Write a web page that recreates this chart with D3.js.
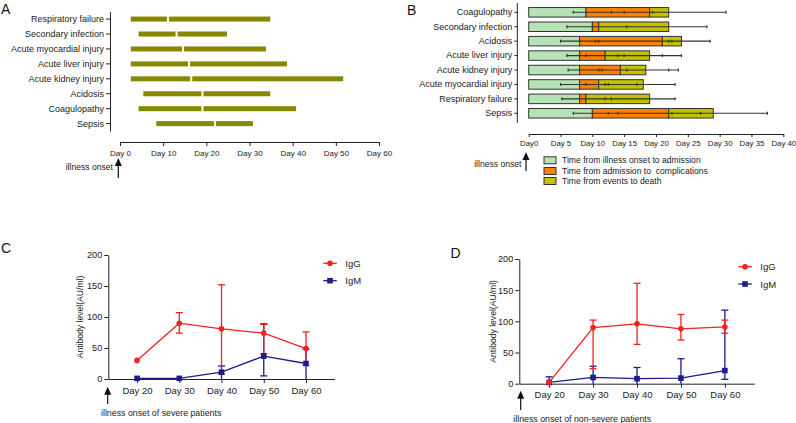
<!DOCTYPE html>
<html>
<head>
<meta charset="utf-8">
<script src="https://cdn.jsdelivr.net/npm/d3@7"></script>
<style>
  body { margin: 0; background: #fff; }
  svg { display: block; font-family: "Liberation Sans", Arial, sans-serif; }
  .axis path, .axis line { stroke: #222; stroke-width: 1; }
  .axis text { fill: #222; font-family: "Liberation Sans", Arial, sans-serif; }
</style>
</head>
<body>
<script>
// ---------- Panel A data ----------
const catsA = ["Respiratory failure", "Secondary infection", "Acute myocardial injury", "Acute liver injury",
               "Acute kidney injury", "Acidosis", "Coagulopathy", "Sepsis"];
const startA = [2.5, 4.3, 2.5, 2.5, 2.5, 5.4, 4.3, 8.4];
const breakA = [11.1, 13.1, 14.6, 16.0, 16.5, 19.1, 19.1, 22.0];
const endA   = [34.8, 24.8, 33.8, 38.7, 51.7, 34.8, 40.8, 30.8];
const ticksA = [0, 10, 20, 30, 40, 50, 60];

// ---------- Panel B data ----------
const catsB = ["Coagulopathy", "Secondary infection", "Acidosis", "Acute liver injury", "Acute kidney injury",
               "Acute myocardial injury", "Respiratory failure", "Sepsis"];
const onsetToAdmission = [9, 10, 8, 8, 8, 8, 8, 10];
const admissionToComplication = [10, 1, 13, 4, 6.4, 3, 1, 12];
const eventsToDeath = [3, 11, 3, 7, 4, 7, 10, 7];
const whiskerLo = [7, 6, 5, 6, 6.2, 5, 5.2, 7];
const whiskerHi = [31, 28, 28.5, 24, 23.5, 23, 23, 37.5];
const innerTicks = [[13, 15, 19.5], [15.4], [10.5, 11, 22, 22.5], [9, 14, 15, 21], [11, 11.5, 15.4, 22],
                    [9, 12, 12.5, 17], [12, 13], [12.5, 14, 22.5, 27]];
const ticksB = [0, 5, 10, 15, 20, 25, 30, 35, 40];
const legendB = ["Time from illness onset to admission", "Time from admission to  complications", "Time from events to death"];

// ---------- Panel C / D data ----------
const days = [20, 30, 40, 50, 60];
const yTicks = [0, 50, 100, 150, 200];
const cIgG = [30, 90, 81, 74, 49];
const cIgGLo = [30, 74, 8, 41, 22];
const cIgGHi = [30, 107, 152, 88, 76];
const cIgM = [1, 1, 11, 37, 25];
const cIgMLo = [1, 1, 0, 5, 0];
const cIgMHi = [1, 1, 21, 89, 48];
const dIgG = [2, 90, 96, 88, 91];
const dIgGLo = [2, 24, 63, 70, 81];
const dIgGHi = [2, 102, 161, 111, 102];
const dIgM = [2, 10, 8, 9, 21];
const dIgMLo = [0, 0, 0, 0, 7];
const dIgMHi = [11, 28, 26, 40, 118];

const FONT = '"Liberation Sans", Arial, sans-serif';
const svg = d3.select("body").append("svg").attr("width", 796).attr("height", 423);

function arrow(x, yTip, yTail) {
  svg.append("line").attr("x1", x).attr("x2", x).attr("y1", yTip + 5).attr("y2", yTail)
    .attr("stroke", "#111").attr("stroke-width", 1.2);
  svg.append("path").attr("d", `M${x},${yTip} L${x - 3.5},${yTip + 8} L${x + 3.5},${yTip + 8} Z`).attr("fill", "#111");
}
function panelLetter(t, x, y) {
  svg.append("text").attr("x", x).attr("y", y).text(t)
    .attr("font-size", 14).attr("fill", "#111").attr("font-family", FONT);
}

// ================= Panel A =================
const xA = d3.scaleLinear().domain([0, 60]).range([120, 379]);
const yA = d3.scaleBand().domain(catsA).range([11.6, 131.1]);
panelLetter("A", 1, 14);
svg.append("g").attr("class", "axis").attr("transform", "translate(110,0)")
  .call(d3.axisLeft(yA).tickSize(4).tickSizeOuter(0).tickPadding(2))
  .call(g => g.selectAll("text").attr("font-size", 9));
svg.append("g").attr("class", "axis").attr("transform", "translate(0,142)")
  .call(d3.axisBottom(xA).tickValues(ticksA).tickFormat(d => "Day " + d).tickSize(4).tickSizeOuter(0).tickPadding(4))
  .call(g => g.selectAll("text").attr("font-size", 8));
const barHA = 5;
catsA.forEach((c, i) => {
  const yc = yA(c) + yA.bandwidth() / 2;
  svg.append("rect").attr("x", xA(startA[i])).attr("y", yc - barHA / 2)
    .attr("width", xA(breakA[i]) - 1 - xA(startA[i])).attr("height", barHA).attr("fill", "#878700");
  svg.append("rect").attr("x", xA(breakA[i]) + 1).attr("y", yc - barHA / 2)
    .attr("width", xA(endA[i]) - xA(breakA[i]) - 1).attr("height", barHA).attr("fill", "#878700");
});
arrow(118.3, 158, 178);
svg.append("text").attr("x", 113).attr("y", 170).attr("text-anchor", "end")
  .attr("font-size", 8.6).attr("fill", "#222").text("illness onset");

// ================= Panel B =================
const xB = d3.scaleLinear().domain([0, 40]).range([528.7, 783.3]);
const yB = d3.scaleBand().domain(catsB).range([5.1, 120.5]).paddingInner(0.34).paddingOuter(0.17);
panelLetter("B", 407, 15);
svg.append("g").attr("class", "axis").attr("transform", "translate(517.3,0)")
  .call(d3.axisLeft(yB).tickSize(3).tickSizeOuter(0).tickPadding(2))
  .call(g => g.select(".domain").attr("d", "M0,3V123"))
  .call(g => g.selectAll("text").attr("font-size", 9));
svg.append("g").attr("class", "axis").attr("transform", "translate(0,134)")
  .call(d3.axisBottom(xB).tickValues(ticksB).tickFormat(d => d === 0 ? "Day0" : "Day " + d).tickSize(3).tickSizeOuter(0).tickPadding(3))
  .call(g => g.selectAll("text").attr("font-size", 7.8));
const segColors = ["#b5e3b5", "#ff8000", "#c2c200"];
catsB.forEach((c, i) => {
  const y0 = yB(c), h = yB.bandwidth();
  const segs = [onsetToAdmission[i], admissionToComplication[i], eventsToDeath[i]];
  let acc = 0;
  segs.forEach((v, k) => {
    svg.append("rect").attr("x", xB(acc)).attr("y", y0).attr("width", xB(acc + v) - xB(acc)).attr("height", h)
      .attr("fill", segColors[k]).attr("stroke", "#333").attr("stroke-width", 1);
    acc += v;
  });
  const yc = y0 + h / 2;
  svg.append("line").attr("x1", xB(whiskerLo[i])).attr("x2", xB(whiskerHi[i])).attr("y1", yc).attr("y2", yc)
    .attr("stroke", "#333").attr("stroke-width", 1.1);
  [whiskerLo[i], whiskerHi[i]].concat(innerTicks[i]).forEach(t => {
    svg.append("line").attr("x1", xB(t)).attr("x2", xB(t)).attr("y1", yc - 1.5).attr("y2", yc + 1.5)
      .attr("stroke", "#333").attr("stroke-width", 1.2);
  });
});
arrow(526, 152, 171);
svg.append("text").attr("x", 521.5).attr("y", 166.5).attr("text-anchor", "end")
  .attr("font-size", 8.6).attr("fill", "#222").text("illness onset");
legendB.forEach((t, k) => {
  const yc = [160.3, 171, 181][k];
  svg.append("rect").attr("x", 544).attr("y", yc - 3.5).attr("width", 12).attr("height", 7)
    .attr("fill", segColors[k]).attr("stroke", "#333").attr("stroke-width", 1);
  svg.append("text").attr("x", 562).attr("y", yc + 3).attr("font-size", 8.6).attr("fill", "#222")
    .style("white-space", "pre").text(t);
});

// ================= Panels C & D =================
function antibodyPanel(o) {
  const x = d3.scaleLinear().domain([13.2, 66.7]).range([o.x0, o.x1]);
  const y = d3.scaleLinear().domain([0, 200]).range([o.y0, o.yTop]);
  svg.append("g").attr("class", "axis").attr("transform", `translate(${o.x0},0)`)
    .call(d3.axisLeft(y).tickValues(yTicks).tickSize(4).tickSizeOuter(0).tickPadding(2))
    .call(g => g.selectAll("text").attr("font-size", 9.2));
  svg.append("g").attr("class", "axis").attr("transform", `translate(0,${o.y0})`)
    .call(d3.axisBottom(x).tickValues(days).tickFormat(d => "Day " + d).tickSize(4).tickSizeOuter(0).tickPadding(4))
    .call(g => g.selectAll("text").attr("font-size", 9.5));
  svg.append("text").attr("transform", `translate(${o.labX},${(o.y0 + o.yTop) / 2}) rotate(-90)`)
    .attr("text-anchor", "middle").attr("font-size", 8.6).attr("fill", "#222").text("Antibody level(AU/ml)");

  const series = [
    { v: o.igm, lo: o.igmLo, hi: o.igmHi, color: "#1c1c8c", shape: "square" },
    { v: o.igg, lo: o.iggLo, hi: o.iggHi, color: "#f52020", shape: "circle" }
  ];
  series.forEach(s => {
    days.forEach((d, i) => {
      if (s.hi[i] > s.lo[i]) {
        const xx = x(d);
        svg.append("line").attr("x1", xx).attr("x2", xx).attr("y1", y(s.lo[i])).attr("y2", y(s.hi[i]))
          .attr("stroke", s.color).attr("stroke-width", 1.3);
        [s.lo[i], s.hi[i]].forEach(val => {
          if (val > 0) svg.append("line").attr("x1", xx - 3.5).attr("x2", xx + 3.5).attr("y1", y(val)).attr("y2", y(val))
            .attr("stroke", s.color).attr("stroke-width", 1.3);
        });
      }
    });
  });
  series.forEach(s => {
    svg.append("path").datum(days.map((d, i) => [x(d), y(s.v[i])]))
      .attr("d", d3.line()).attr("fill", "none").attr("stroke", s.color).attr("stroke-width", 1.3);
    days.forEach((d, i) => {
      if (s.shape === "circle") svg.append("circle").attr("cx", x(d)).attr("cy", y(s.v[i])).attr("r", 2.8).attr("fill", s.color);
      else svg.append("rect").attr("x", x(d) - 2.8).attr("y", y(s.v[i]) - 2.8).attr("width", 5.6).attr("height", 5.6).attr("fill", s.color);
    });
  });
  // legend
  [["IgG", "#f52020", "circle"], ["IgM", "#1c1c8c", "square"]].forEach((l, k) => {
    const yc = o.legY[k];
    svg.append("line").attr("x1", o.legX).attr("x2", o.legX + 13.5).attr("y1", yc).attr("y2", yc)
      .attr("stroke", l[1]).attr("stroke-width", 1.3);
    if (l[2] === "circle") svg.append("circle").attr("cx", o.legX + 6.7).attr("cy", yc).attr("r", 2.8).attr("fill", l[1]);
    else svg.append("rect").attr("x", o.legX + 6.7 - 2.8).attr("y", yc - 2.8).attr("width", 5.6).attr("height", 5.6).attr("fill", l[1]);
    svg.append("text").attr("x", o.legX + 22).attr("y", yc + 3.5).attr("font-size", 9.5).attr("fill", "#222").text(l[0]);
  });
  arrow(o.arrX, o.arrTip, o.arrTail);
  svg.append("text").attr("x", o.noteX).attr("y", o.noteY).attr("font-size", 8.8).attr("fill", "#222").text(o.note);
}

panelLetter("C", 1, 253);
antibodyPanel({
  x0: 108.3, x1: 334.3, y0: 379, yTop: 255, labX: 83,
  igg: cIgG, iggLo: cIgGLo, iggHi: cIgGHi, igm: cIgM, igmLo: cIgMLo, igmHi: cIgMHi,
  legX: 323.3, legY: [263.3, 280.7],
  arrX: 107.7, arrTip: 386.7, arrTail: 404,
  noteX: 101, noteY: 416, note: "illness onset of severe patients"
});

panelLetter("D", 450.5, 258);
antibodyPanel({
  x0: 519.3, x1: 754.3, y0: 383.7, yTop: 259, labX: 495.5,
  igg: dIgG, iggLo: dIgGLo, iggHi: dIgGHi, igm: dIgM, igmLo: dIgMLo, igmHi: dIgMHi,
  legX: 738.3, legY: [266.7, 284],
  arrX: 520.7, arrTip: 390.7, arrTail: 410,
  noteX: 513.3, noteY: 421.5, note: "illness onset of non-severe patients"
});
</script>
</body>
</html>
